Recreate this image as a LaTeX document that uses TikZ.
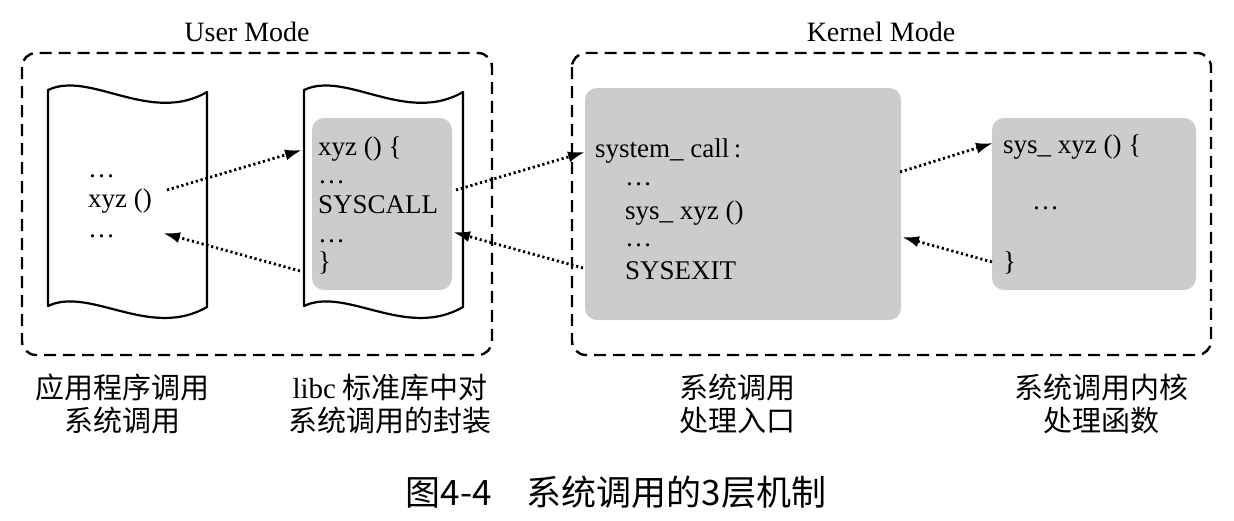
\documentclass[tikz,border=0pt]{standalone}
\usepackage{fontspec}
\setmainfont{Liberation Serif}
\newfontfamily\cjk{Noto Sans CJK SC}
\usetikzlibrary{positioning,arrows.meta}

\tikzset{
  modebox/.style={draw, line width=2.4pt, dash pattern=on 12pt off 7pt, rounded corners=14pt},
  graybox/.style={fill=black!20, rounded corners=12pt},
  pageline/.style={line width=2.2pt, line join=round},
  code/.style={font=\fontsize{27}{30}\selectfont, inner sep=0pt, anchor=base west},
  caption/.style={font=\fontsize{29}{33}\selectfont\cjk, align=center},
  call/.style={line width=2.8pt, dash pattern=on 2.2pt off 2.8pt, -{Latex[length=17pt,width=11pt]}},
}

% page with wavy top and bottom
\newcommand{\wavypage}[2]{%
  \draw[pageline] (#1,90) .. controls (#1+42,70) and (#1+102,125) .. (#1+159,92)
    -- (#1+159,307) .. controls (#1+102,340) and (#1+42,286) .. (#1,306) -- cycle;
  \coordinate (#2) at (#1,90);}

\begin{document}
\begin{tikzpicture}[x=1pt, y=-1pt]
  \useasboundingbox (0,0) rectangle (1234,520);

  % Modus-Rahmen
  \draw[modebox] (22,53) rectangle (492,355);
  \draw[modebox] (572,53) rectangle (1211,355);
  \node[font=\fontsize{28}{30}\selectfont] (usermode) at (247,32) {User Mode};
  \node[font=\fontsize{28}{30}\selectfont] (kernelmode) at (881,32) {Kernel Mode};

  % Seiten
  \wavypage{48}{apppage}
  \wavypage{304}{libcpage}

  % graue Kaesten
  \path[graybox] (312,118) rectangle (452,290);
  \path[graybox] (585,88) rectangle (901,320);
  \path[graybox] (992,118) rectangle (1196,290);

  % Anwendung
  \node[code] (appdots1) at (88,177) {\ldots};
  \node[code] (appcall) at (88,207) {xyz ()};
  \node[code] (appdots2) at (88,237) {\ldots};

  % libc
  \node[code] (libcxyz) at (318,155) {xyz () \{};
  \node[code] (libcdots1) at (318,183) {\ldots};
  \node[code] (libcsys) at (318,213) {SYSCALL};
  \node[code] (libcdots2) at (318,242) {\ldots};
  \node[code] (libcend) at (318,270) {\}};

  % Einstieg
  \node[code] (entry) at (595,157) {system\_ call\,:};
  \node[code] (entrydots1) at (625,185) {\ldots};
  \node[code] (entrysys) at (625,219) {sys\_ xyz ()};
  \node[code] (entrydots2) at (625,246) {\ldots};
  \node[code] (entryexit) at (625,279) {SYSEXIT};

  % Kernfunktion
  \node[code] (kernxyz) at (1003,153) {sys\_ xyz () \{};
  \node[code] (kerndots) at (1032,209) {\ldots};
  \node[code] (kernend) at (1003,270) {\}};

  % Aufrufe
  \coordinate (a1) at (167,190);  \coordinate (b1) at (302,150);
  \coordinate (a2) at (300,271);  \coordinate (b2) at (163,233);
  \coordinate (a3) at (456,190);  \coordinate (b3) at (585,152);
  \coordinate (a4) at (583,268);  \coordinate (b4) at (453,232);
  \coordinate (a5) at (900,172);  \coordinate (b5) at (993,143);
  \coordinate (a6) at (992,262);  \coordinate (b6) at (902,237);
  \draw[call] (a1) -- (b1);
  \draw[call] (a2) -- (b2);
  \draw[call] (a3) -- (b3);
  \draw[call] (a4) -- (b4);
  \draw[call] (a5) -- (b5);
  \draw[call] (a6) -- (b6);

  % Beschriftungen
  \node[caption] (lblapp) at (122,404) {应用程序调用\\系统调用};
  \node[caption] (lbllibc) at (390,404) {{\rmfamily libc} 标准库中对\\系统调用的封装};
  \node[caption] (lblentry) at (737,404) {系统调用\\处理入口};
  \node[caption] (lblkern) at (1101,404) {系统调用内核\\处理函数};

  \node[font=\fontsize{35}{37}\selectfont\cjk] (title) at (616,492) {图4-4\quad 系统调用的3层机制};
\end{tikzpicture}
\end{document}
